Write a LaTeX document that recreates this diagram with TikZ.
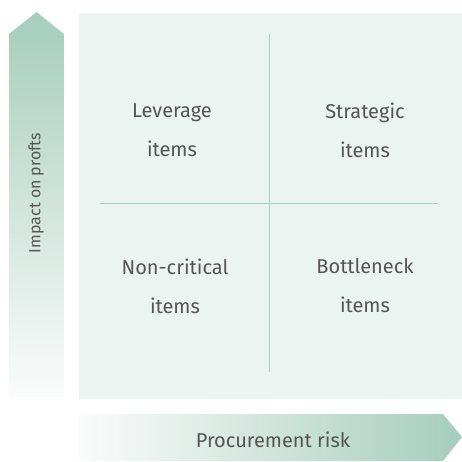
\documentclass[tikz,border=0pt]{standalone}
\usepackage{fontspec}
\setmainfont{Fira Sans}
\usepackage{xcolor}
\usetikzlibrary{positioning,calc}

\definecolor{panelfill}{HTML}{EBF4F1}
\definecolor{gridline}{HTML}{A9CFC4}
\definecolor{arrowgreen}{HTML}{A5CDBD}
\definecolor{labelgray}{HTML}{555555}

\tikzset{
	quadlabel/.style={text=labelgray,font=\fontsize{20}{39}\selectfont,align=center},
	axislabel/.style={text=labelgray,font=\fontsize{20}{22}\selectfont},
}

\begin{document}
\begin{tikzpicture}[x=1pt,y=-1pt]
	\useasboundingbox (0,0) rectangle (462,461);
	
	% matrix panel
	\fill[panelfill] (79,13) rectangle (462,399);
	\coordinate (T) at (269,34);
	\coordinate (Bt) at (269,372);
	\coordinate (L) at (100,203);
	\coordinate (R) at (438,203);
	\draw[gridline,line width=1pt] (T)--(Bt);
	\draw[gridline,line width=1pt] (L)--(R);
	
	% vertical axis
	\shade[top color=arrowgreen,bottom color=white!97!gray]
		(9,397)--(9,34)--(36.5,12)--(64,34)--(64,397)--cycle;
	\node[axislabel,font=\fontsize{16}{20}\selectfont,rotate=90] (yaxis) at (36,193) {Impact on profts};
	
	% horizontal axis
	\shade[left color=white!97!gray,right color=arrowgreen]
		(79,414)--(443,414)--(462,437)--(443,461)--(79,461)--cycle;
	\node[axislabel] (xaxis) at (273,440) {Procurement risk};
	
	% quadrants
	\node[quadlabel] (lev) at (172,130) {Leverage\\items};
	\node[quadlabel] (str) at (365,130) {Strategic\\items};
	\node[quadlabel] (non) at (175,286) {Non-critical\\items};
	\node[quadlabel] (bot) at (365,286) {Bottleneck\\items};
\end{tikzpicture}
\end{document}
